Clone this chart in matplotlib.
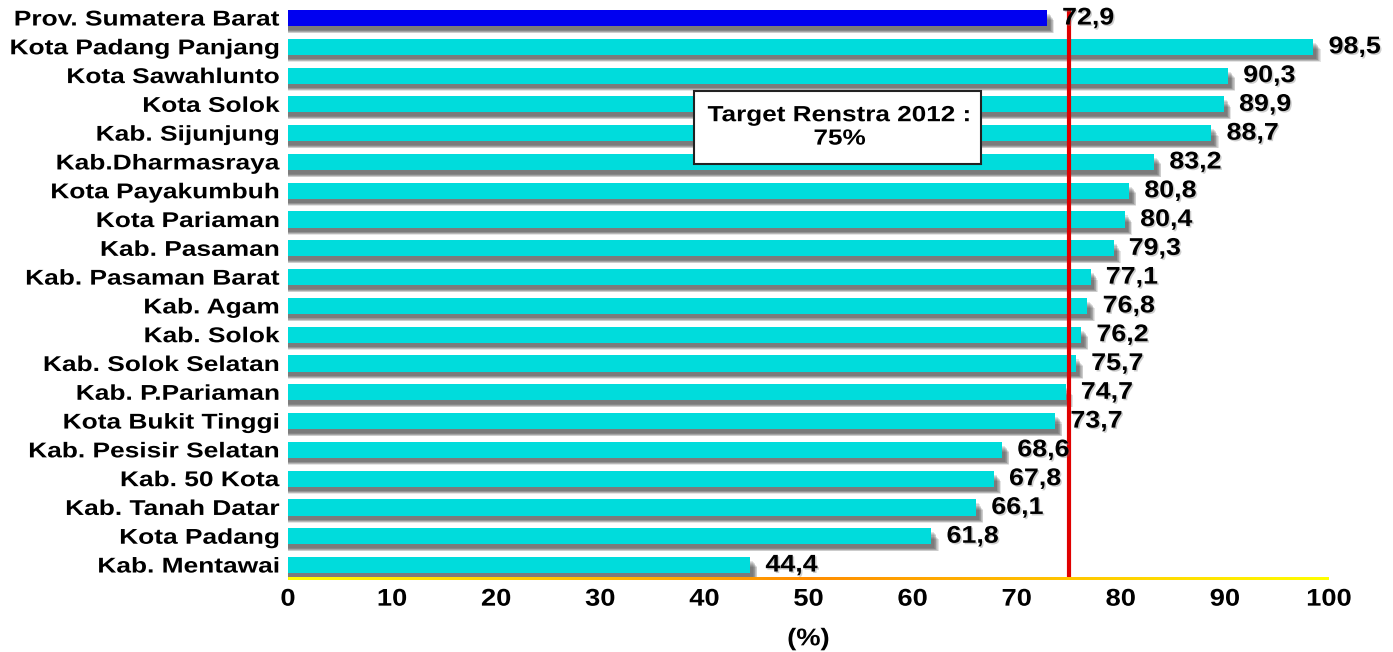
import matplotlib.pyplot as plt
import matplotlib.patheffects as pe
import numpy as np
from matplotlib.colors import LinearSegmentedColormap
from matplotlib.patches import Rectangle
from matplotlib.transforms import Affine2D

plt.rcParams["font.family"] = ["Liberation Sans", "DejaVu Sans"]
plt.rcParams["font.weight"] = "bold"

# --- data ----------------------------------------------------------------
regions = [
    "Prov. Sumatera Barat", "Kota Padang Panjang", "Kota Sawahlunto", "Kota Solok",
    "Kab. Sijunjung", "Kab.Dharmasraya", "Kota Payakumbuh", "Kota Pariaman",
    "Kab. Pasaman", "Kab. Pasaman Barat", "Kab. Agam", "Kab. Solok",
    "Kab. Solok Selatan", "Kab. P.Pariaman", "Kota Bukit Tinggi",
    "Kab. Pesisir Selatan", "Kab. 50 Kota", "Kab. Tanah Datar", "Kota Padang",
    "Kab. Mentawai",
]
values = [72.9, 98.5, 90.3, 89.9, 88.7, 83.2, 80.8, 80.4, 79.3, 77.1,
          76.8, 76.2, 75.7, 74.7, 73.7, 68.6, 67.8, 66.1, 61.8, 44.4]
target = 75
xticks = [0, 10, 20, 30, 40, 50, 60, 70, 80, 90, 100]

CYAN = "#00DCDC"
BLUE = "#0000F0"


class Stretch(pe.AbstractPathEffect):
    """Widen glyphs horizontally around a fixed anchor, optional soft shadow."""

    def __init__(self, sx, anchor="left", shadow=False):
        super().__init__()
        self.sx = sx
        self.anchor = anchor
        self.shadow = shadow

    def draw_path(self, renderer, gc, tpath, affine, rgbFace=None):
        ext = tpath.get_extents()
        a = {"left": ext.x0, "right": ext.x1, "center": 0.5 * (ext.x0 + ext.x1)}[self.anchor]
        tr = Affine2D().translate(-a, 0).scale(self.sx, 1).translate(a, 0) + affine
        if self.shadow:
            gc0 = renderer.new_gc()
            gc0.copy_properties(gc)
            gc0.set_alpha(0.35)
            gc0.set_linewidth(0)
            renderer.draw_path(gc0, tpath, tr + Affine2D().translate(1.5, -1.5), (0.45, 0.45, 0.45))
            gc0.restore()
        renderer.draw_path(gc, tpath, tr, rgbFace)


fig = plt.figure(figsize=(13.93, 6.52), dpi=100)
ax = fig.add_axes([288 / 1393, 72 / 652, 1041 / 1393, 580 / 652])

y = np.arange(len(regions))
colors = [BLUE] + [CYAN] * (len(regions) - 1)
bar_h = 0.56

# soft drop shadow: stacked offset copies of each bar
px_x = 100 / 1041
px_y = 1 / 28.8
for k in range(7):
    dx = (3 + k * 0.7) * px_x
    dy = (4 + k * 0.8) * px_y
    ax.barh(y + dy, np.array(values) + dx, height=bar_h - k * 0.02,
            left=0, color="#303030", alpha=0.13, zorder=1, linewidth=0)

ax.barh(y, values, height=bar_h, color=colors, zorder=2, linewidth=0)

# target line
ax.plot([target, target], [-0.3, 19.52], color="#E00000", lw=3, zorder=3,
        solid_capstyle="butt")

# value labels
for yi, v in zip(y, values):
    ax.annotate(f"{v:.1f}".replace(".", ","), (v, yi), xytext=(11, 0),
                textcoords="offset points", va="center", ha="left",
                fontsize=17.4, fontweight="bold", zorder=4,
                path_effects=[Stretch(1.11, "left", shadow=True)])

# gradient base line yellow -> orange -> yellow
cmap = LinearSegmentedColormap.from_list("base", ["#FFFF00", "#FF8C00", "#FFFF00"])
grad = np.linspace(0, 1, 256).reshape(1, -1)
ax.imshow(grad, cmap=cmap, aspect="auto", extent=(-0.2, 100, 19.59, 19.45),
          zorder=3)

# target annotation box
ax.add_patch(Rectangle((39.0, 2.535), 27.57, 2.535, fc="white", ec="#222222",
                       lw=1.5, zorder=5))
ax.text(53.0, 3.80, "Target Renstra 2012 :\n75%", ha="center", va="center",
        fontsize=15.8, fontweight="bold", linespacing=1.15, zorder=6,
        path_effects=[Stretch(1.19, "center")])

ax.set_xlim(0, 100)
ax.set_ylim(19.52, -0.625)
ax.set_yticks(y)
ax.set_yticklabels(regions, fontsize=15.4, fontweight="bold")
ax.set_xticks(xticks)
ax.set_xticklabels([str(t) for t in xticks], fontsize=17.4, fontweight="bold")
ax.tick_params(axis="both", length=0)
ax.tick_params(axis="y", pad=6)
ax.tick_params(axis="x", pad=5.5)
for lab in ax.get_yticklabels():
    lab.set_path_effects([Stretch(1.23, "right")])
for lab in ax.get_xticklabels():
    lab.set_path_effects([Stretch(1.13, "center")])
ax.set_xlabel("(%)", fontsize=17.4, fontweight="bold", labelpad=12,
              path_effects=[Stretch(1.13, "center")])
for s in ax.spines.values():
    s.set_visible(False)

fig.savefig("out.png", dpi=100)
